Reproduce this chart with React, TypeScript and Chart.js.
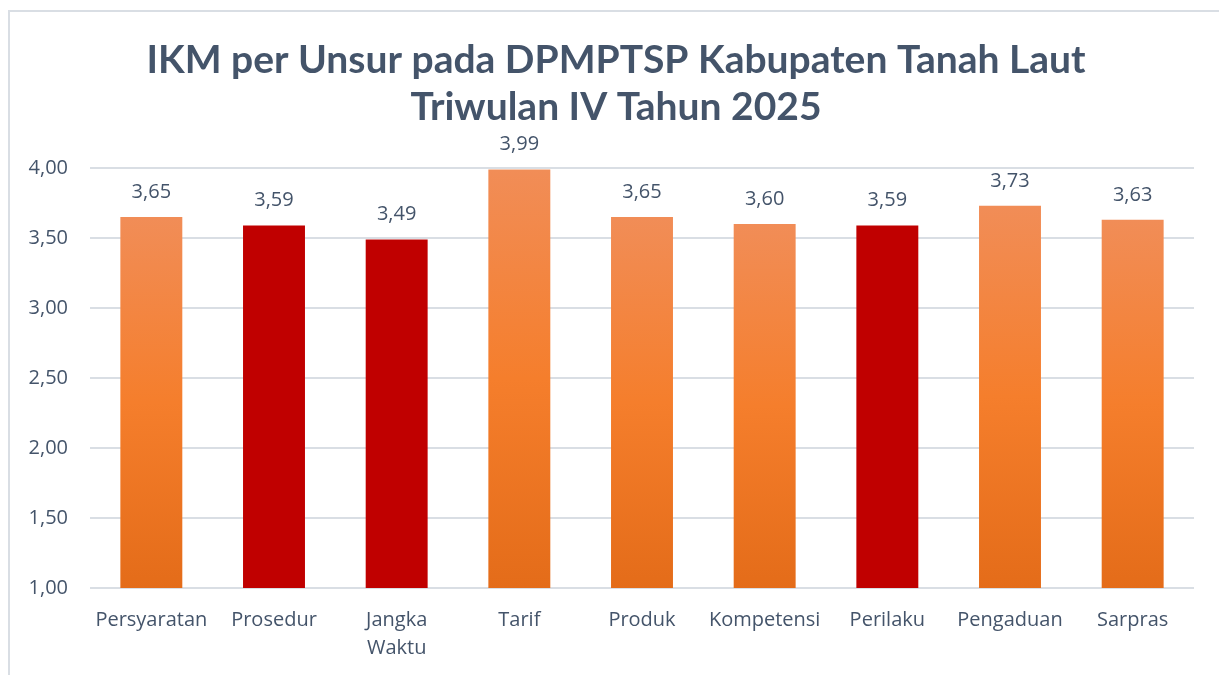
import React, { useEffect, useRef } from "react";
import { Chart, registerables } from "chart.js";

Chart.register(...registerables);

const titleLines = ["IKM per Unsur pada DPMPTSP Kabupaten Tanah Laut", "Triwulan IV Tahun 2025"];
const categories: (string | string[])[] = [
  "Persyaratan",
  "Prosedur",
  ["Jangka", "Waktu"],
  "Tarif",
  "Produk",
  "Kompetensi",
  "Perilaku",
  "Pengaduan",
  "Sarpras",
];
const values = [3.65, 3.59, 3.49, 3.99, 3.65, 3.6, 3.59, 3.73, 3.63];
const isRed = [false, true, true, false, false, false, true, false, false];
const yMin = 1;
const yMax = 4;
const yStep = 0.5;

const TEXT = "#44546A";
const TITLE_FONT = "Lato, 'Open Sans', sans-serif";
const FONT = "'Open Sans', Lato, sans-serif";

const fmt = (v: number) => v.toFixed(2).replace(".", ",");

const dataLabelPlugin = {
  id: "dataLabels",
  afterDatasetsDraw(chart: any) {
    const ctx = chart.ctx;
    const meta = chart.getDatasetMeta(0);
    ctx.save();
    ctx.font = `20px ${FONT}`;
    ctx.fillStyle = TEXT;
    ctx.textAlign = "center";
    ctx.textBaseline = "middle";
    meta.data.forEach((bar: any, i: number) => {
      ctx.fillText(fmt(values[i]), bar.x, bar.y - 25);
    });
    ctx.restore();
  },
};

const titlePlugin = {
  id: "centeredTitle",
  afterDraw(chart: any) {
    const ctx = chart.ctx;
    ctx.save();
    ctx.font = `bold 39px ${TITLE_FONT}`;
    ctx.fillStyle = TEXT;
    ctx.textAlign = "center";
    ctx.textBaseline = "middle";
    titleLines.forEach((line, i) => {
      ctx.fillText(line, 606, 48 + i * 47);
    });
    ctx.restore();
  },
};

export default function App() {
  const ref = useRef<HTMLCanvasElement>(null);
  useEffect(() => {
    if (!ref.current) return;
    const chart = new Chart(ref.current, {
      type: "bar",
      data: {
        labels: categories,
        datasets: [
          {
            data: values,
            backgroundColor: (context: any) => {
              const i = context.dataIndex;
              if (isRed[i]) return "#C00000";
              const ch = context.chart;
              const area = ch.chartArea;
              if (!area) return "#F47D30";
              const yScale = ch.scales.y;
              const top = yScale.getPixelForValue(values[i]);
              const g = ch.ctx.createLinearGradient(0, top, 0, area.bottom);
              g.addColorStop(0, "#F18D57");
              g.addColorStop(0.5, "#F57E2C");
              g.addColorStop(1, "#E46C19");
              return g;
            },
            categoryPercentage: 1,
            barPercentage: 0.505,
          },
        ],
      },
      options: {
        animation: false,
        responsive: false,
        maintainAspectRatio: false,
        layout: { padding: { top: 156, left: 0, right: 25, bottom: 0 } },
        plugins: {
          legend: { display: false },
          tooltip: { enabled: false },
          title: { display: false },
        },
        scales: {
          x: {
            afterFit: (scale: any) => {
              scale.height = 87;
            },
            grid: { display: false, drawTicks: false },
            border: { display: false },
            ticks: {
              color: TEXT,
              font: { family: FONT, size: 20, lineHeight: 1.4 },
              padding: 18,
              maxRotation: 0,
              autoSkip: false,
            },
          },
          y: {
            min: yMin,
            max: yMax,
            afterFit: (scale: any) => {
              scale.width = 80;
            },
            grid: { color: "#D9DEE4", lineWidth: 2, drawTicks: false },
            border: { display: false },
            ticks: {
              stepSize: yStep,
              color: TEXT,
              font: { family: FONT, size: 20 },
              padding: 22,
              callback: (v: any) => fmt(Number(v)),
            },
          },
        },
      },
      plugins: [dataLabelPlugin, titlePlugin],
    });
    return () => chart.destroy();
  }, []);
  return (
    <div
      style={{
        position: "fixed",
        left: 8,
        top: 10,
        width: 1240,
        height: 700,
        border: "2px solid #D9DEE4",
        background: "#fff",
        boxSizing: "border-box",
      }}
    >
      <canvas ref={ref} width={1209} height={663} style={{ display: "block" }} />
    </div>
  );
}
